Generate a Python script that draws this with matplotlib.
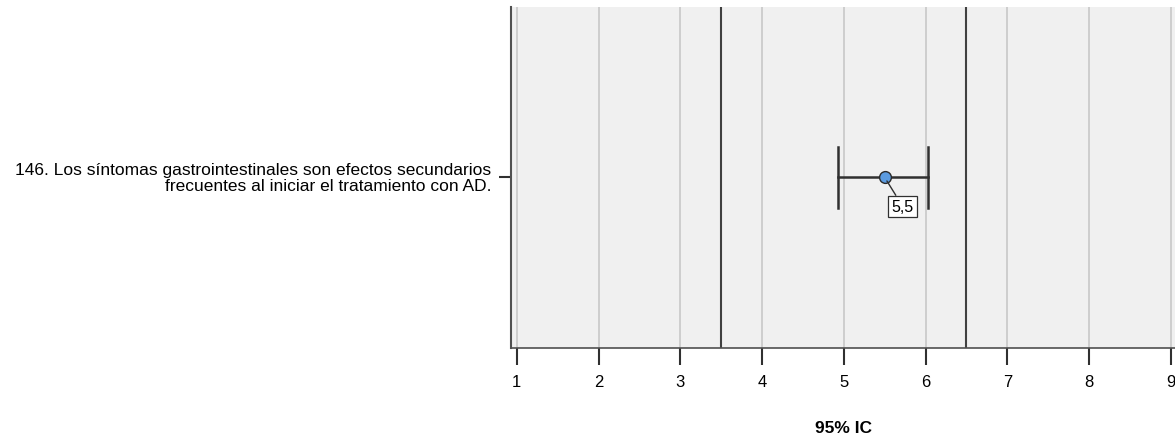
import matplotlib
matplotlib.use("Agg")
import matplotlib.pyplot as plt
import matplotlib.transforms as mtransforms

plt.rcParams["font.family"] = ["Liberation Sans", "DejaVu Sans"]

categories = ["146. Los síntomas gastrointestinales son efectos secundarios\nfrecuentes al iniciar el tratamiento con AD."]
means = [5.5]
ci_low = [4.93]
ci_high = [6.03]
ref_lines = [3.5, 6.5]
x_ticks = [1, 2, 3, 4, 5, 6, 7, 8, 9]
mean_labels = ["5,5"]


def main():
    fig = plt.figure(figsize=(11.75, 4.39), dpi=100)
    ax = fig.add_axes([0.4349, 0.205, 0.5651, 0.7772])
    ax.set_facecolor("#f0f0f0")

    ax.set_xlim(0.93, 9.05)
    ax.set_ylim(-0.5, 0.5)

    for t in x_ticks:
        ax.axvline(t, color="#c8c8c8", lw=1.2, zorder=1)
    for r in ref_lines:
        ax.axvline(r, color="#404040", lw=1.5, zorder=2)

    for i, cat in enumerate(categories):
        y = 0
        ax.plot([ci_low[i], ci_high[i]], [y, y], color="#303030", lw=1.8, zorder=3)
        for xe in (ci_low[i], ci_high[i]):
            ax.plot([xe, xe], [y - 0.09, y + 0.09], color="#303030", lw=1.8, zorder=3)
        ax.plot(means[i], y, "o", ms=8.5, mfc="#5b9be0", mec="#2a2a2a", mew=1.0, zorder=5)
        ax.annotate(mean_labels[i], xy=(means[i], y), xytext=(means[i] + 0.22, y - 0.085),
                    ha="center", va="center", fontsize=11.5,
                    bbox=dict(boxstyle="square,pad=0.2", fc="white", ec="#303030", lw=0.9),
                    arrowprops=dict(arrowstyle="-", color="#303030", lw=1.0, shrinkA=0, shrinkB=3),
                    zorder=6)

    ax.set_yticks([0])
    ax.set_yticklabels(categories, fontsize=12.5, ha="right", va="center", linespacing=1.05)
    shift = mtransforms.ScaledTranslation(0, -3 / 72, fig.dpi_scale_trans)
    for lbl in ax.get_yticklabels():
        lbl.set_transform(lbl.get_transform() + shift)
    ax.set_xticks(x_ticks)
    ax.set_xticklabels([str(t) for t in x_ticks], fontsize=12)
    ax.tick_params(axis="x", length=12, width=1.5, color="#303030", pad=7)
    ax.tick_params(axis="y", length=9, width=1.5, color="#303030", pad=5)

    for s in ["top", "right"]:
        ax.spines[s].set_visible(False)
    ax.spines["left"].set_color("#505050")
    ax.spines["left"].set_linewidth(1.5)
    ax.spines["bottom"].set_color("#505050")
    ax.spines["bottom"].set_linewidth(1.2)

    ax.set_xlabel("95% IC", fontsize=12.5, fontweight="bold", labelpad=22)

    fig.savefig("out.png", dpi=100)


if __name__ == "__main__":
    main()
